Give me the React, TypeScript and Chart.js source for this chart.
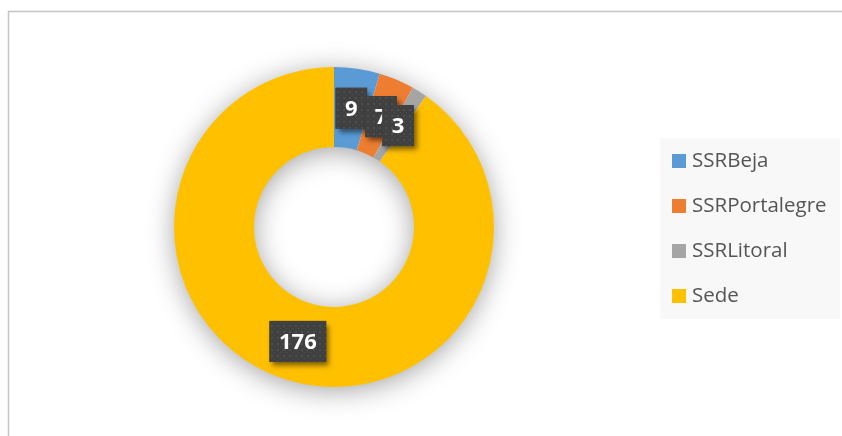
import React, { useEffect, useRef } from "react";
import { Chart, registerables } from "chart.js";

Chart.register(...registerables);

const categories = ["SSRBeja", "SSRPortalegre", "SSRLitoral", "Sede"];
const values = [9, 7, 3, 176];
const colors = ["#5B9BD5", "#ED7D31", "#A5A5A5", "#FFC000"];

const W = 842;
const H = 436;

function makePattern(ctx: CanvasRenderingContext2D) {
  const c = document.createElement("canvas");
  c.width = 6;
  c.height = 6;
  const p = c.getContext("2d")!;
  p.fillStyle = "#404040";
  p.fillRect(0, 0, 6, 6);
  p.fillStyle = "#4e4e4e";
  p.fillRect(1, 1, 2, 2);
  p.fillRect(4, 4, 1, 1);
  return ctx.createPattern(c, "repeat");
}

const framePlugin = {
  id: "frame",
  beforeDraw(chart: any) {
    const ctx = chart.ctx;
    ctx.save();
    ctx.fillStyle = "#ffffff";
    ctx.fillRect(0, 0, W, H);
    ctx.strokeStyle = "#c4c4c4";
    ctx.lineWidth = 1.5;
    ctx.beginPath();
    ctx.moveTo(8.5, H + 2);
    ctx.lineTo(8.5, 11.5);
    ctx.lineTo(W + 2, 11.5);
    ctx.stroke();
    ctx.restore();
  },
};

const ringShadowPlugin = {
  id: "ringShadow",
  beforeDatasetsDraw(chart: any) {
    const meta = chart.getDatasetMeta(0);
    if (!meta.data.length) return;
    const arc: any = meta.data[0];
    const { x, y, innerRadius, outerRadius } = arc.getProps(
      ["x", "y", "innerRadius", "outerRadius"],
      true
    );
    const ctx = chart.ctx;
    ctx.save();
    ctx.shadowColor = "rgba(0,0,0,0.38)";
    ctx.shadowBlur = 28;
    ctx.shadowOffsetX = 0;
    ctx.shadowOffsetY = 4;
    ctx.fillStyle = "#ffffff";
    ctx.beginPath();
    ctx.arc(x, y, outerRadius - 1, 0, Math.PI * 2);
    ctx.arc(x, y, innerRadius + 1, 0, Math.PI * 2, true);
    ctx.closePath();
    ctx.fill();
    ctx.restore();
  },
};

const labelPlugin = {
  id: "boxLabels",
  afterDatasetsDraw(chart: any) {
    const ctx = chart.ctx as CanvasRenderingContext2D;
    const meta = chart.getDatasetMeta(0);
    const data = chart.data.datasets[0].data as number[];
    const pattern = makePattern(ctx);
    ctx.save();
    ctx.font = "bold 22px 'Open Sans'";
    ctx.textAlign = "center";
    ctx.textBaseline = "middle";
    meta.data.forEach((arc: any, i: number) => {
      const pt = arc.getCenterPoint(true);
      const txt = String(data[i]);
      const tw = ctx.measureText(txt).width;
      const bw = tw + 19;
      const bh = 41;
      const bx = pt.x - bw / 2;
      const by = pt.y - bh / 2;
      ctx.save();
      ctx.shadowColor = "rgba(0,0,0,0.5)";
      ctx.shadowBlur = 5;
      ctx.shadowOffsetX = 3;
      ctx.shadowOffsetY = 4;
      ctx.fillStyle = "#404040";
      ctx.fillRect(bx, by, bw, bh);
      ctx.restore();
      if (pattern) {
        ctx.fillStyle = pattern;
        ctx.fillRect(bx, by, bw, bh);
      }
      ctx.fillStyle = "#ffffff";
      ctx.fillText(txt, pt.x, pt.y + 1);
    });
    ctx.restore();
  },
};

const legendPlugin = {
  id: "boxLegend",
  afterDraw(chart: any) {
    const ctx = chart.ctx as CanvasRenderingContext2D;
    const labels = chart.data.labels as string[];
    const bg = chart.data.datasets[0].backgroundColor as string[];
    ctx.save();
    ctx.fillStyle = "#f8f8f8";
    ctx.fillRect(660, 138, 180, 181);
    ctx.font = "20.5px 'Open Sans'";
    ctx.textAlign = "left";
    ctx.textBaseline = "middle";
    labels.forEach((lab, i) => {
      const cy = 161 + i * 45;
      ctx.fillStyle = bg[i];
      ctx.fillRect(672, cy - 7, 14, 14);
      ctx.fillStyle = "#555555";
      ctx.fillText(lab, 692, cy);
    });
    ctx.restore();
  },
};

export default function App() {
  const ref = useRef<HTMLCanvasElement | null>(null);
  useEffect(() => {
    if (!ref.current) return;
    const chart = new Chart(ref.current, {
      type: "doughnut",
      data: {
        labels: categories,
        datasets: [
          {
            data: values,
            backgroundColor: colors,
            borderWidth: 0,
            hoverOffset: 0,
            offset: 0,
          },
        ],
      },
      options: {
        responsive: false,
        animation: false,
        cutout: "50%",
        layout: { padding: { left: 174, right: 348, top: 67, bottom: 49 } },
        plugins: {
          legend: { display: false },
          tooltip: { enabled: false },
        },
        events: [],
      },
      plugins: [framePlugin, ringShadowPlugin, labelPlugin, legendPlugin],
    });
    return () => chart.destroy();
  }, []);
  return (
    <div style={{ position: "fixed", left: 0, top: 0, width: W, height: H, background: "#fff" }}>
      <canvas ref={ref} width={W} height={H} style={{ display: "block", width: W, height: H }} />
    </div>
  );
}
